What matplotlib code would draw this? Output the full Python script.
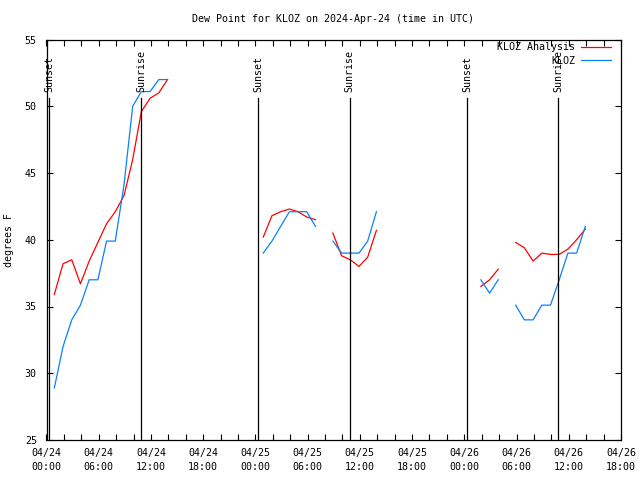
import matplotlib
matplotlib.use("Agg")
import matplotlib.pyplot as plt
import matplotlib.dates as mdates
import pandas as pd

# hourly segments (start time, values) -- gaps are missing data
seg_starts = ["2024-04-24 00:54", "2024-04-25 00:54", "2024-04-25 08:54",
              "2024-04-26 01:54", "2024-04-26 05:54"]

analysis_vals = [
    [35.9, 38.2, 38.5, 36.7, 38.4, 39.8, 41.2, 42.1, 43.3, 46.0, 49.6, 50.6, 51.0, 52.0],
    [40.2, 41.8, 42.1, 42.3, 42.1, 41.7, 41.5],
    [40.5, 38.8, 38.5, 38.0, 38.7, 40.7],
    [36.5, 37.0, 37.8],
    [39.8, 39.4, 38.4, 39.0, 38.9, 38.9, 39.3, 40.0, 40.8],
]

obs_vals = [
    [28.9, 32.0, 34.0, 35.1, 37.0, 37.0, 39.9, 39.9, 44.1, 50.0, 51.1, 51.1, 52.0, 52.0],
    [39.0, 39.9, 41.0, 42.1, 42.1, 42.1, 41.0],
    [39.9, 39.0, 39.0, 39.0, 39.9, 42.1],
    [37.0, 36.0, 37.0],
    [35.1, 34.0, 34.0, 35.1, 35.1, 37.0, 39.0, 39.0, 41.0],
]

sun_times = ["2024-04-24 00:17", "2024-04-24 10:51", "2024-04-25 00:18",
             "2024-04-25 10:50", "2024-04-26 00:19", "2024-04-26 10:49"]
sun_names = ["Sunset", "Sunrise", "Sunset", "Sunrise", "Sunset", "Sunrise"]

FONT = "DejaVu Sans Mono"
FS = 7.2
plt.rcParams["font.family"] = FONT
plt.rcParams["font.size"] = FS

fig = plt.figure(figsize=(6.4, 4.8), dpi=100)
ax = fig.add_axes([46.5 / 640, 40 / 480, (621 - 46.5) / 640, (440 - 39.5) / 480])

red = "#ff0000"
blue = "#0a80ff"

for i, start in enumerate(seg_starts):
    t_a = pd.date_range(start, periods=len(analysis_vals[i]), freq="h")
    t_o = pd.date_range(start, periods=len(obs_vals[i]), freq="h")
    ax.plot(t_a, analysis_vals[i], color=red, lw=0.9,
            label="KLOZ Analysis" if i == 0 else None)
    ax.plot(t_o, obs_vals[i], color=blue, lw=0.9,
            label="KLOZ" if i == 0 else None)

for t, name in zip(sun_times, sun_names):
    tt = pd.Timestamp(t)
    ax.plot([tt, tt], [25, 50.65], color="black", lw=0.9)
    ax.text(tt, 51.1, name, rotation=90, ha="center", va="bottom", fontsize=FS)

x0 = pd.Timestamp("2024-04-24 00:00")
x1 = pd.Timestamp("2024-04-26 18:00")
ax.set_xlim(x0, x1)
ax.set_ylim(25, 55)

major = pd.date_range(x0, x1, freq="6h")
ax.set_xticks(major)
ax.set_xticklabels([t.strftime("%m/%d\n%H:%M") for t in major])
ax.xaxis.set_minor_locator(mdates.HourLocator(byhour=range(0, 24, 2)))
for lab in ax.get_xticklabels():
    lab.set_linespacing(1.45)

ax.set_yticks(range(25, 56, 5))
ax.tick_params(axis="both", which="both", direction="in", top=True, right=True,
               length=4, width=0.8, labelsize=FS)
ax.tick_params(axis="y", pad=7)
ax.tick_params(axis="x", pad=6)
for s in ax.spines.values():
    s.set_linewidth(0.9)

ax.set_ylabel("degrees F", fontsize=FS, labelpad=8)
fig.text(333 / 640, 1 - 19 / 480, "Dew Point for KLOZ on 2024-Apr-24 (time in UTC)",
         ha="center", va="center", fontsize=FS)

ax.legend(loc="upper right", bbox_to_anchor=(611 / 640, 1 - 42 / 480),
          bbox_transform=fig.transFigure, frameon=False, markerfirst=False,
          borderaxespad=0, borderpad=0, handlelength=3.0, handletextpad=0.6,
          labelspacing=0.35, fontsize=FS)

fig.savefig("out.png", dpi=100)
